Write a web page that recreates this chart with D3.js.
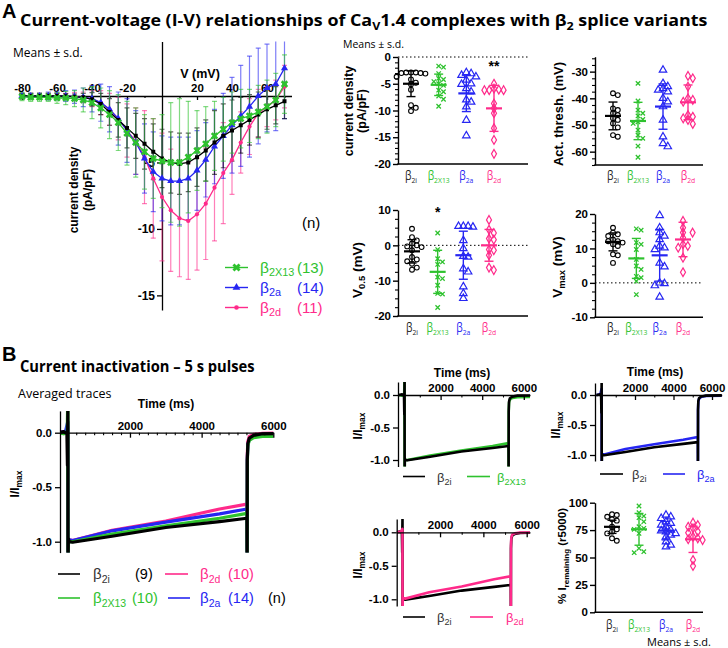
<!DOCTYPE html>
<html><head><meta charset="utf-8">
<script src="https://cdn.jsdelivr.net/npm/d3@7/dist/d3.min.js"></script>
<style>html,body{margin:0;padding:0;background:#fff;} svg{display:block;}</style>
</head><body>
<svg id="fig" width="728" height="648" xmlns="http://www.w3.org/2000/svg"></svg>
<script>
// ================= DATA =================
const variants = ["b2i", "b2x13", "b2a", "b2d"];
const variantSub = {b2i: "2i", b2x13: "2X13", b2a: "2a", b2d: "2d"};

// I-V relationships (mean, s.d.) at each test potential (mV)
const ivVoltage = [-80,-75,-70,-65,-60,-55,-50,-45,-40,-35,-30,-25,-20,-15,-10,-5,0,5,10,15,20,25,30,35,40,45,50,55,60,65,70];
const ivMean_b2i   = [0,0,0,0,0,-0.02,-0.05,-0.1,-0.25,-0.6,-1.2,-1.8,-2.4,-3.0,-3.6,-4.2,-4.7,-5.0,-5.1,-5.0,-4.6,-4.1,-3.5,-3.0,-2.6,-2.2,-1.8,-1.4,-1.0,-0.7,-0.4];
const ivSD_b2i     = [0.2,0.2,0.2,0.2,0.2,0.2,0.2,0.3,0.5,0.8,1.0,1.3,1.5,1.7,1.9,2.1,2.2,2.3,2.3,2.2,2.2,2.3,2.4,2.4,2.3,2.1,1.9,1.7,1.5,1.4,1.3];
const ivMean_b2x13 = [-0.05,-0.1,-0.1,-0.1,-0.15,-0.15,-0.2,-0.3,-0.5,-0.9,-1.4,-2.0,-2.8,-3.5,-4.2,-4.7,-4.9,-5.0,-5.0,-4.6,-4.1,-3.6,-3.0,-2.5,-2.0,-1.7,-1.5,-1.2,-0.8,-0.3,0.9];
const ivSD_b2x13   = [0.3,0.3,0.3,0.3,0.4,0.5,0.6,0.9,1.2,1.5,1.8,2.1,2.4,2.6,2.8,3.0,3.5,4.5,4.8,4.2,3.0,2.8,2.6,2.4,2.3,2.2,2.0,2.0,2.0,2.0,2.2];
const ivMean_b2a   = [0,0,0,0,0,0,-0.05,-0.1,-0.2,-0.5,-1.0,-1.7,-2.6,-3.5,-4.7,-5.7,-6.2,-6.4,-6.4,-6.2,-5.6,-4.8,-3.8,-3.0,-2.2,-1.5,-0.8,0.0,0.6,0.9,2.1];
const ivSD_b2a     = [0.2,0.2,0.2,0.3,0.3,0.4,0.5,0.7,1.0,1.4,1.7,2.0,2.4,2.4,2.6,3.0,3.2,3.3,3.3,3.1,3.0,2.8,2.8,3.2,3.6,3.8,3.8,3.6,3.3,3.5,3.8];
const ivMean_b2d   = [0,0,0,0,0,0,-0.05,-0.1,-0.2,-0.5,-1.0,-1.7,-2.6,-3.4,-4.6,-6.2,-7.6,-8.6,-9.2,-9.4,-8.9,-8.1,-6.9,-5.8,-4.8,-3.5,-2.3,-1.3,-0.8,-0.3,0.7];
const ivSD_b2d     = [0.2,0.2,0.2,0.2,0.2,0.2,0.3,0.4,0.6,0.9,1.2,1.6,2.0,2.5,3.5,4.5,4.8,4.6,4.4,4.4,4.2,4.2,4.0,3.8,2.6,2.3,2.1,1.8,1.5,1.5,1.6];
const ivXTicks = [-80,-60,-40,-20,20,40,60];
const ivYTicks = [-5,-10,-15];
const ivLegend = [["b2x13","(13)"],["b2a","(14)"],["b2d","(11)"]];

// Individual cells: current density (pA/pF)
const cd_b2i   = [-2.9,-2.9,-2.9,-3.0,-3.0,-3.1,-3.7,-4.2,-4.8,-5.1,-6.1,-9.0,-9.5,-10.1];
const cd_b2x13 = [-1.7,-1.9,-3.1,-4.0,-4.2,-4.6,-5.0,-5.3,-6.2,-6.5,-7.3,-7.9,-9.2];
const cd_b2a   = [-2.9,-3.1,-3.4,-3.7,-4.3,-5.0,-5.1,-5.9,-6.5,-8.0,-8.4,-9.3,-11.8,-14.7];
const cd_b2d   = [-5.0,-5.9,-6.1,-6.2,-6.2,-6.2,-8.7,-9.6,-10.5,-13.3,-15.5,-18.1];
const cd_mean = [-5.0,-5.2,-6.8,-9.6];
const cd_sd   = [2.4,2.0,3.4,4.3];
const cd_ticks = [0,-5,-10,-15,-20];

// Activation threshold (mV)
const at_b2i   = [-38.1,-38.8,-43.8,-44.4,-45.6,-46.3,-47.5,-48.1,-49.4,-50.9,-53.8,-54.4];
const at_b2x13 = [-34.4,-41.0,-44.4,-45.6,-46.6,-47.9,-48.8,-49.4,-51.9,-53.8,-55.0,-57.9,-62.1];
const at_b2a   = [-29.4,-34.4,-35.6,-36.3,-36.9,-37.5,-40.0,-41.3,-43.1,-48.1,-54.4,-56.9,-58.1];
const at_b2d   = [-31.6,-32.5,-35.6,-40.0,-40.6,-41.3,-46.3,-46.9,-47.5,-48.1,-49.6];
const at_mean = [-46.6,-48.5,-43.1,-41.5];
const at_sd   = [5.2,7.0,8.5,6.5];
const at_ticks = [-30,-40,-50,-60];

// V0.5 (mV)
const v05_b2i   = [4.7,2.3,1.4,0.5,0.0,-0.3,-0.5,-1.4,-3.3,-4.0,-4.5,-5.2,-6.3,-6.9];
const v05_b2x13 = [3.5,-1.2,-3.8,-4.7,-5.4,-9.0,-9.4,-11.3,-13.6,-13.8,-17.6];
const v05_b2a   = [5.4,5.4,5.4,5.2,1.4,-0.9,-3.1,-3.3,-6.6,-7.5,-11.7,-13.6,-15.0];
const v05_b2d   = [7.2,4.4,3.5,1.9,1.6,-1.2,-1.4,-2.8,-6.3,-7.0];
const v05_mean = [-1.7,-7.5,-2.8,0.0];
const v05_sd   = [3.3,6.1,6.8,4.5];
const v05_ticks = [10,0,-10,-20];

// Vmax (mV)
const vmax_b2i   = [16.0,14.6,14.1,13.6,12.6,12.1,12.1,11.7,11.2,10.7,8.3,8.0,5.8];
const vmax_b2x13 = [15.7,15.3,11.7,11.2,9.7,6.8,4.9,3.9,1.9,1.5,0.5,-3.4];
const vmax_b2a   = [19.6,16.0,14.6,13.6,12.6,10.7,10.2,9.7,5.8,4.7,0.0,-0.2,-0.8,-4.1];
const vmax_b2d   = [18.0,16.0,14.6,14.6,13.1,11.2,10.7,10.2,7.3,3.1];
const vmax_mean = [11.9,7.1,8.0,12.6];
const vmax_sd   = [2.6,5.8,7.5,5.0];
const vmax_ticks = [20,10,0,-10];

// % I remaining at 5000 ms
const rem_b2i   = [89.4,88.8,87.2,84.8,83.6,78.1,75.7,73.6,72.0,67.5,65.3];
const rem_b2x13 = [97.0,90.9,87.8,86.3,82.7,78.1,76.6,75.7,72.0,58.4,55.3,54.4];
const rem_b2a   = [88.8,87.2,85.7,82.7,81.2,79.6,78.1,75.1,74.5,73.6,72.0,70.5,69.0,64.4,61.4,59.9];
const rem_b2d   = [81.8,79.6,78.1,76.6,73.6,72.6,69.0,67.5,66.6,65.9,47.7,42.2];
const rem_mean = [78.0,75.7,74.5,66.6];
const rem_sd   = [6.0,14.5,8.4,12.0];
const rem_ticks = [0,25,50,75,100];

// Averaged normalized current traces, [time (ms), I/Imax]
const trace_b2i = [[0,0],[150,0.01],[240,-0.01],[255,-0.3],[262,0.05],[268,0.25],[271,-1.3],[280,-0.97],[300,-1.0],[400,-1.005],[1500,-0.95],[3000,-0.87],[4500,-0.815],[5265,-0.785],[5270,-1.3],[5274,-0.25],[5290,-0.1],[5330,-0.05],[5450,-0.025],[5700,-0.01],[6600,-0.005]];
const trace_b2x13 = [[0,0],[150,-0.01],[250,0.01],[262,0.3],[265,-0.45],[268,0.3],[271,-1.3],[280,-1.0],[400,-1.0],[1500,-0.93],[3000,-0.855],[4500,-0.785],[5265,-0.74],[5270,-1.3],[5274,-0.28],[5290,-0.12],[5330,-0.07],[5450,-0.045],[5700,-0.035],[6600,-0.03]];
const trace_b2a = [[0,0],[200,0.01],[262,0.1],[265,-0.12],[268,0.1],[271,-1.3],[280,-0.98],[400,-0.99],[1500,-0.9],[3000,-0.82],[4500,-0.745],[5265,-0.70],[5270,-1.3],[5274,-0.25],[5290,-0.11],[5330,-0.06],[5450,-0.03],[5700,-0.015],[6600,-0.01]];
const trace_b2d = [[0,0],[200,0.01],[262,0.05],[265,-0.05],[271,-1.3],[280,-0.98],[400,-0.99],[1500,-0.895],[3000,-0.81],[4500,-0.70],[5265,-0.655],[5270,-1.3],[5274,-0.2],[5290,-0.08],[5330,-0.035],[5450,-0.015],[5700,-0.005],[6600,0]];
const traceTimeTicks = [2000,4000,6000];
const traceYTicks = [0,-0.5,-1];
const traceLegend = [["b2i","(9)"],["b2d","(10)"],["b2x13","(10)"],["b2a","(14)"]];

// ================= STYLE / HELPERS =================
const colors = {b2i: "#000000", b2x13: "#2ec22e", b2a: "#2626f2", b2d: "#ff2a8a"};
const FB = "'Liberation Sans', Arial, sans-serif";
const FC = "'Open Sans', 'Noto Sans', sans-serif";
const svg = d3.select("#fig");
svg.append("rect").attr("width",728).attr("height",648).attr("fill","#fff");
const defs = svg.append("defs");

function richText(g, x, y, parts, o = {}) {
  const size = o.size || 12;
  const t = g.append("text").attr("x", x).attr("y", y)
    .attr("font-family", o.family || FB).attr("font-size", size)
    .attr("font-weight", o.weight || "normal").attr("fill", o.fill || "#000")
    .attr("text-anchor", o.anchor || "start");
  if (o.rotate) t.attr("transform", `rotate(${o.rotate},${x},${y})`);
  else if (o.sx) t.attr("transform", `translate(${x},0) scale(${o.sx},1) translate(${-x},0)`);
  let shift = 0;
  parts.forEach(([s, kind]) => {
    const ts = t.append("tspan").text(s);
    const target = kind === "sub" ? size * (o.subShift || 0.25) : 0;
    if (target !== shift) { ts.attr("dy", target - shift); shift = target; }
    if (kind === "sub") ts.attr("font-size", size * (o.subScale || 0.7));
  });
  return t;
}
function fitWidth(sel, x0, w) {
  const bw = sel.node().getBBox().width;
  const s = w / bw;
  sel.attr("transform", `translate(${x0},0) scale(${s},1) translate(${-x0},0)`);
}
function styleAxis(gA, size, sw) {
  gA.select(".domain").attr("stroke", "#000").attr("stroke-width", sw || 1.4);
  gA.selectAll(".tick line").attr("stroke", "#000").attr("stroke-width", sw || 1.4);
  gA.selectAll(".tick text").attr("font-family", FB).attr("font-weight", "bold")
    .attr("font-size", size || 11.5).attr("fill", "#000");
}
const numFmt = d => String(d);

// ================= HEADINGS =================
svg.append("text").attr("x", 2).attr("y", 18).attr("font-family", FB).attr("font-weight", "bold").attr("font-size", 20).text("A");
const titleA = richText(svg, 20, 26, [["Current-voltage (I-V) relationships of Ca",""],["V","sub"],["1.4 complexes with β",""],["2","sub"],[" splice variants",""]], {family: FC, weight: "bold", size: 15.5});
fitWidth(titleA, 20, 688);
svg.append("text").attr("x", 13).attr("y", 57).attr("font-family", FC).attr("font-size", 12).text("Means ± s.d.");

svg.append("text").attr("x", 2).attr("y", 361).attr("font-family", FB).attr("font-weight", "bold").attr("font-size", 20).text("B");
const titleB = svg.append("text").attr("x", 20).attr("y", 372).attr("font-family", FC).attr("font-weight", "bold").attr("font-size", 15.5).text("Current inactivation – 5 s pulses");
fitWidth(titleB, 20, 235);
svg.append("text").attr("x", 18).attr("y", 398).attr("font-family", FC).attr("font-size", 12.5).text("Averaged traces");

// ================= I-V PLOT =================
(function ivPlot() {
  const g = svg.append("g");
  const x = d3.scaleLinear().domain([-80, 74]).range([22, 291.5]);
  const y = d3.scaleLinear().domain([4.1, -16.1]).range([41.5, 310]);
  defs.append("clipPath").attr("id", "ivclip").append("rect").attr("x", 0).attr("y", 41.5).attr("width", 330).attr("height", 270);

  const gx = g.append("g").attr("transform", `translate(0,${y(0)})`)
    .call(d3.axisBottom(x).tickValues(ivXTicks).tickSize(4).tickSizeOuter(0).tickFormat(numFmt));
  styleAxis(gx, 11.5, 1.3);
  gx.selectAll(".tick text").attr("y", -4).attr("dy", "0");
  const gxm = g.append("g").attr("transform", `translate(0,${y(0)})`)
    .call(d3.axisBottom(x).tickValues([-70,-50,-30,-10,10,30,50,70]).tickSize(2).tickFormat(""));
  gxm.select(".domain").remove(); gxm.selectAll("line").attr("stroke-width", 1.1);

  const gy = g.append("g").attr("transform", `translate(${x(0)},0)`)
    .call(d3.axisLeft(y).tickValues(ivYTicks).tickSize(5).tickSizeOuter(0).tickPadding(2).tickFormat(numFmt));
  styleAxis(gy, 12, 1.3);

  g.append("text").attr("x", 200).attr("y", 78).attr("text-anchor", "middle").attr("font-family", FB).attr("font-weight", "bold").attr("font-size", 12.5).text("V (mV)");
  richText(g, 78, 190, [["current density",""]], {weight: "bold", size: 12, anchor: "middle", rotate: -90});
  richText(g, 92, 190, [["(pA/pF)",""]], {weight: "bold", size: 12, anchor: "middle", rotate: -90});

  const series = [
    {k: "b2d", m: ivMean_b2d, s: ivSD_b2d, sym: d3.symbolCircle, size: 14, rot: 0},
    {k: "b2a", m: ivMean_b2a, s: ivSD_b2a, sym: d3.symbolTriangle, size: 22, rot: 0},
    {k: "b2i", m: ivMean_b2i, s: ivSD_b2i, sym: d3.symbolSquare, size: 16, rot: 0},
    {k: "b2x13", m: ivMean_b2x13, s: ivSD_b2x13, sym: d3.symbolCross, size: 34, rot: 45}
  ];
  const sg = g.append("g").attr("clip-path", "url(#ivclip)");
  series.forEach(se => {
    const col = colors[se.k];
    const pts = ivVoltage.map((v, i) => ({v, m: se.m[i], s: se.s[i]}));
    const eb = sg.append("g").attr("stroke", col).attr("stroke-opacity", 0.6).attr("stroke-width", 1.2);
    pts.forEach(p => {
      const cx = x(p.v);
      eb.append("line").attr("x1", cx).attr("x2", cx).attr("y1", y(p.m + p.s)).attr("y2", y(p.m - p.s));
      eb.append("line").attr("x1", cx - 2.5).attr("x2", cx + 2.5).attr("y1", y(p.m + p.s)).attr("y2", y(p.m + p.s));
      eb.append("line").attr("x1", cx - 2.5).attr("x2", cx + 2.5).attr("y1", y(p.m - p.s)).attr("y2", y(p.m - p.s));
    });
  });
  series.forEach(se => {
    const col = colors[se.k];
    const pts = ivVoltage.map((v, i) => ({v, m: se.m[i]}));
    sg.append("path").datum(pts).attr("d", d3.line().x(d => x(d.v)).y(d => y(d.m)))
      .attr("fill", "none").attr("stroke", col).attr("stroke-width", 1.3);
    sg.selectAll(null).data(pts).enter().append("path")
      .attr("d", d3.symbol(se.sym, se.size))
      .attr("transform", d => `translate(${x(d.v)},${y(d.m)}) rotate(${se.rot})`)
      .attr("fill", col);
  });

  // legend
  g.append("text").attr("x", 302).attr("y", 228).attr("font-family", FB).attr("font-size", 15).text("(n)");
  const lgY = [267.5, 287.5, 307.5];
  ivLegend.forEach(([k, n], i) => {
    const se = series.find(s => s.k === k);
    const col = colors[k];
    g.append("line").attr("x1", 225).attr("x2", 248).attr("y1", lgY[i]).attr("y2", lgY[i]).attr("stroke", col).attr("stroke-width", 1.4);
    g.append("path").attr("d", d3.symbol(se.sym, se.size * 1.2)).attr("transform", `translate(236.5,${lgY[i]}) rotate(${se.rot})`).attr("fill", col);
    richText(g, 260, lgY[i] + 5, [["β",""],[variantSub[k],"sub"]], {size: 15.5, fill: col});
    g.append("text").attr("x", 297).attr("y", lgY[i] + 5).attr("font-family", FB).attr("font-size", 15).attr("fill", col).text(n);
  });
})();

// ================= DOT PLOTS =================
function swarm(vals, y, cx, d) {
  const placed = [];
  const sorted = vals.map(v => ({v, py: y(v)})).sort((a, b) => a.py - b.py);
  sorted.forEach(p => {
    for (let k = 0; k < 30; k++) {
      const off = k === 0 ? 0 : (k % 2 ? 1 : -1) * Math.ceil(k / 2) * d;
      const px = cx + off;
      if (placed.every(q => Math.hypot(q.px - px, q.py - p.py) >= d)) { p.px = px; placed.push(p); break; }
    }
  });
  return placed;
}
function marker(g, k, px, py) {
  const col = colors[k];
  if (k === "b2i") g.append("circle").attr("cx", px).attr("cy", py).attr("r", 2.4).attr("fill", "none").attr("stroke", col).attr("stroke-width", 1.1);
  else if (k === "b2x13") g.append("path").attr("d", `M${px-2.2},${py-2.2}L${px+2.2},${py+2.2}M${px-2.2},${py+2.2}L${px+2.2},${py-2.2}`).attr("stroke", col).attr("stroke-width", 1.3);
  else if (k === "b2a") g.append("path").attr("d", d3.symbol(d3.symbolTriangle, 24)).attr("transform", `translate(${px},${py})`).attr("fill", "none").attr("stroke", col).attr("stroke-width", 1.2);
  else g.append("path").attr("d", d3.symbol(d3.symbolDiamond, 22)).attr("transform", `translate(${px},${py})`).attr("fill", "none").attr("stroke", col).attr("stroke-width", 1.2);
}
function dotPanel(c) {
  const g = svg.append("g");
  const y = d3.scaleLinear().domain(c.yDomain).range(c.yRange);
  const x = d3.scalePoint().domain(variants).range(c.catRange);
  if (c.zero) g.append("line").attr("x1", c.axisX).attr("x2", c.axisEnd).attr("y1", y(0)).attr("y2", y(0))
    .attr("stroke", "#000").attr("stroke-width", 1).attr("stroke-dasharray", "1.5,2.5");
  const gy = g.append("g").attr("transform", `translate(${c.axisX},0)`)
    .call(d3.axisLeft(y).tickValues(c.ticks).tickSize(5).tickSizeOuter(0).tickPadding(2).tickFormat(numFmt));
  styleAxis(gy, 11.5, 1.4);
  if (c.minor) {
    const gm = g.append("g").attr("transform", `translate(${c.axisX},0)`)
      .call(d3.axisLeft(y).tickValues(d3.range(c.yDomain[0], c.yDomain[1] + 0.001, c.minor).filter(t => !c.ticks.includes(t))).tickSize(3).tickFormat(""));
    gm.select(".domain").remove(); gm.selectAll("line").attr("stroke-width", 1.1);
  }
  g.append("line").attr("x1", c.axisX - 0.7).attr("x2", c.axisEnd).attr("y1", c.yRange[0]).attr("y2", c.yRange[0]).attr("stroke", "#000").attr("stroke-width", 1.4);

  variants.forEach((k, i) => {
    const cx = x(k);
    const col = colors[k];
    const pts = swarm(c.data[i], y, cx, 4.8);
    const mg = g.append("g");
    pts.forEach(p => marker(mg, k, p.px, p.py));
    const m = c.mean[i], s = c.sd[i];
    const eg = g.append("g").attr("stroke", col);
    eg.append("line").attr("x1", cx).attr("x2", cx).attr("y1", y(m + s)).attr("y2", y(m - s)).attr("stroke-width", 1.4);
    eg.append("line").attr("x1", cx - 4.5).attr("x2", cx + 4.5).attr("y1", y(m + s)).attr("y2", y(m + s)).attr("stroke-width", 1.4);
    eg.append("line").attr("x1", cx - 4.5).attr("x2", cx + 4.5).attr("y1", y(m - s)).attr("y2", y(m - s)).attr("stroke-width", 1.4);
    eg.append("line").attr("x1", cx - 8).attr("x2", cx + 8).attr("y1", y(m)).attr("y2", y(m)).attr("stroke-width", 2.2);
    richText(g, cx, c.labelY, [["β",""],[variantSub[k],"sub"]], {family: FC, size: 12, fill: k === "b2i" ? "#222" : col, anchor: "middle", subScale: 0.66, subShift: 0.28, sx: 0.86});
  });
  c.title.forEach(([parts, tx, size]) => richText(g, tx, c.titleY, parts, {weight: "bold", size: size, anchor: "middle", rotate: -90}));
  if (c.star) g.append("text").attr("x", x(c.star[0])).attr("y", c.star[2]).attr("text-anchor", "middle")
    .attr("font-family", FB).attr("font-weight", "bold").attr("font-size", 14).text(c.star[1]);
  return g;
}

dotPanel({axisX: 398, axisEnd: 528, yDomain: [-20, 0], yRange: [164, 57], ticks: cd_ticks, minor: 1,
  catRange: [411, 494], zero: true, labelY: 180, data: [cd_b2i, cd_b2x13, cd_b2a, cd_b2d], mean: cd_mean, sd: cd_sd,
  title: [[[["current density",""]], 353, 12.5], [[["(pA/pF)",""]], 366, 12.5]], titleY: 111, star: ["b2d", "**", 71]});
svg.append("text").attr("x", 343).attr("y", 48).attr("font-family", FC).attr("font-size", 10.5).text("Means ± s.d.");

dotPanel({axisX: 595, axisEnd: 703, yDomain: [-65, -24.4], yRange: [165, 56.7], ticks: at_ticks, minor: 2.5,
  catRange: [613, 688], zero: false, labelY: 180, data: [at_b2i, at_b2x13, at_b2a, at_b2d], mean: at_mean, sd: at_sd,
  title: [[[["Act. thresh. (mV)",""]], 563, 13]], titleY: 114});

dotPanel({axisX: 398, axisEnd: 528, yDomain: [-20, 10], yRange: [316, 210], ticks: v05_ticks, minor: 2.5,
  catRange: [412, 489], zero: true, labelY: 332, data: [v05_b2i, v05_b2x13, v05_b2a, v05_b2d], mean: v05_mean, sd: v05_sd,
  title: [[[["V",""],["0.5","sub"],[" (mV)",""]], 362, 13.5]], titleY: 270, star: ["b2x13", "*", 217]});

dotPanel({axisX: 595, axisEnd: 703, yDomain: [-10, 20], yRange: [317.3, 214], ticks: vmax_ticks, minor: 2.5,
  catRange: [613, 683], zero: true, labelY: 332, data: [vmax_b2i, vmax_b2x13, vmax_b2a, vmax_b2d], mean: vmax_mean, sd: vmax_sd,
  title: [[[["V",""],["max","sub"],[" (mV)",""]], 562, 13.5]], titleY: 267});

dotPanel({axisX: 595, axisEnd: 703, yDomain: [0, 100], yRange: [612.3, 502.7], ticks: rem_ticks, minor: null,
  catRange: [612, 693], zero: false, labelY: 629, data: [rem_b2i, rem_b2x13, rem_b2a, rem_b2d], mean: rem_mean, sd: rem_sd,
  title: [[[["% I",""],["remaining","sub"],[" (r5000)",""]], 566, 11.5]], titleY: 556});
svg.append("text").attr("x", 647).attr("y", 646).attr("font-family", FC).attr("font-size", 11).text("Means ± s.d.");

// ================= TRACE PANELS =================
const traces = {b2i: trace_b2i, b2x13: trace_b2x13, b2a: trace_b2a, b2d: trace_b2d};
function tracePanel(c) {
  const g = svg.append("g");
  const x = d3.scaleLinear().domain([0, 6000]).range([c.x0, c.x6000]);
  const y = d3.scaleLinear().domain([0, -1]).range([c.y0, c.ym1]);
  const yTop = y(0.2), yBot = y(-1.1);
  defs.append("clipPath").attr("id", "clip" + c.id).append("rect")
    .attr("x", c.axisX).attr("y", yTop).attr("width", c.axisEnd - c.axisX).attr("height", yBot - yTop);
  const tg = g.append("g").attr("clip-path", `url(#clip${c.id})`);
  const line = d3.line().x(d => x(d[0])).y(d => y(d[1]));
  c.keys.forEach(k => tg.append("path").datum(traces[k]).attr("d", line).attr("fill", "none")
    .attr("stroke", colors[k]).attr("stroke-width", c.sw).attr("stroke-linejoin", "round"));

  const xA = d3.scaleLinear().domain([x.invert(c.axisX), x.invert(c.axisEnd)]).range([c.axisX, c.axisEnd]);
  const gx = g.append("g").attr("transform", `translate(0,${y(0)})`)
    .call(d3.axisBottom(xA).tickValues(traceTimeTicks).tickSize(5).tickSizeOuter(0).tickFormat(numFmt));
  styleAxis(gx, 11.5, 1.3);
  gx.selectAll(".tick text").attr("y", -3).attr("dy", "0");
  const gxm = g.append("g").attr("transform", `translate(0,${y(0)})`)
    .call(d3.axisBottom(xA).tickValues(d3.range(c.minor, 6001, c.minor).filter(t => !traceTimeTicks.includes(t))).tickSize(2.5).tickFormat(""));
  gxm.select(".domain").remove(); gxm.selectAll("line").attr("stroke-width", 1.1);

  const yA = d3.scaleLinear().domain([0.2, -1.1]).range([yTop, yBot]);
  const gy = g.append("g").attr("transform", `translate(${c.axisX},0)`)
    .call(d3.axisLeft(yA).tickValues(traceYTicks).tickSize(5).tickSizeOuter(0).tickPadding(3).tickFormat(d => d.toFixed(1)));
  styleAxis(gy, 11.5, 1.3);

  richText(g, c.titleX, c.titleY, [["I/I",""],["max","sub"]], {weight: "bold", size: 12, anchor: "middle", rotate: -90});
  if (c.timeTitle) g.append("text").attr("x", c.timeTitle[0]).attr("y", c.timeTitle[1]).attr("text-anchor", "middle")
    .attr("font-family", FB).attr("font-weight", "bold").attr("font-size", 12).text("Time (ms)");
  return g;
}

tracePanel({id: "main", x0: 58.3, x6000: 273.3, axisX: 60, axisEnd: 273.3, y0: 432.7, ym1: 541.7, sw: 3.2, minor: 250,
  keys: ["b2d", "b2a", "b2x13", "b2i"], titleX: 19, titleY: 484, timeTitle: [166, 408]});
tracePanel({id: "x13", x0: 399, x6000: 523.8, axisX: 398, axisEnd: 530, y0: 395, ym1: 460, sw: 2.6, minor: 1000,
  keys: ["b2x13", "b2i"], titleX: 362, titleY: 426, timeTitle: [462, 377]});
tracePanel({id: "b2a", x0: 596.5, x6000: 712, axisX: 595, axisEnd: 721.7, y0: 395, ym1: 455, sw: 2.6, minor: 1000,
  keys: ["b2a", "b2i"], titleX: 560, titleY: 425, timeTitle: [655, 376]});
tracePanel({id: "b2d", x0: 396.7, x6000: 526.7, axisX: 396.7, axisEnd: 530, y0: 532.3, ym1: 599.3, sw: 2.6, minor: 1000,
  keys: ["b2i", "b2d"], titleX: 362, titleY: 565, timeTitle: null});

// Legends for traces
function lineLegend(x1, x2, y, k, tx, size, nText, nx) {
  svg.append("line").attr("x1", x1).attr("x2", x2).attr("y1", y).attr("y2", y).attr("stroke", colors[k]).attr("stroke-width", 1.6);
  richText(svg, tx, y + 5, [["β",""],[variantSub[k],"sub"]], {size: size, fill: k === "b2i" ? "#333" : colors[k]});
  if (nText) svg.append("text").attr("x", nx).attr("y", y + 5).attr("font-family", FB).attr("font-size", size - 0.5)
    .attr("fill", k === "b2i" ? "#000" : colors[k]).text(nText);
}
lineLegend(58, 80, 574, traceLegend[0][0], 93, 15, traceLegend[0][1], 135);
lineLegend(165, 188, 574, traceLegend[1][0], 200, 15, traceLegend[1][1], 228);
lineLegend(58, 80, 598, traceLegend[2][0], 93, 15, traceLegend[2][1], 132);
lineLegend(168, 190, 598, traceLegend[3][0], 200, 15, traceLegend[3][1], 228);
svg.append("text").attr("x", 268).attr("y", 603).attr("font-family", FB).attr("font-size", 14.5).text("(n)");

lineLegend(403, 425, 476.5, "b2i", 437, 13);
lineLegend(467, 490, 476.5, "b2x13", 497, 13);
lineLegend(600, 623, 474, "b2i", 632, 13);
lineLegend(663, 685, 474, "b2a", 697, 13);
lineLegend(403, 425, 617, "b2i", 437, 13);
lineLegend(470, 493, 617, "b2d", 506, 13);
</script>
</body></html>
